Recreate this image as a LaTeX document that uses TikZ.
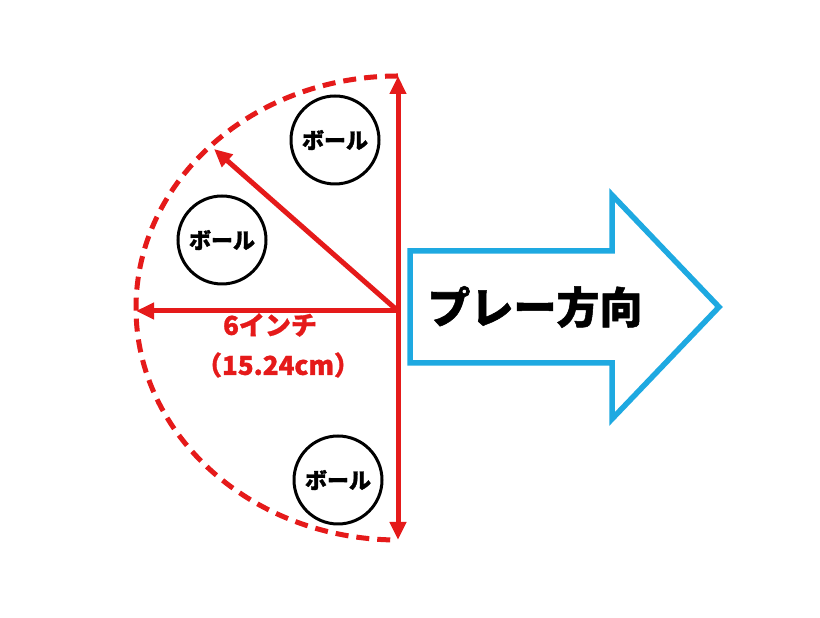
\documentclass[tikz,border=0pt]{standalone}
\usepackage{fontspec}
\newfontfamily\cjk{Noto Sans CJK JP Black}[FakeBold=1.2]
\usetikzlibrary{arrows.meta}
\definecolor{rd}{HTML}{E51A1A}
\definecolor{bl}{HTML}{1EA9E1}
\tikzset{
  redarrow/.style={draw=rd, line width=5pt, -{Triangle[length=18pt,width=16pt]}},
  dasharc/.style={draw=rd, line width=5pt, dash pattern=on 13pt off 8pt},
  ball/.style={circle, draw=black, line width=3pt, minimum size=88pt, inner sep=0pt, font=\cjk\fontsize{22}{24}\selectfont},
  redlabel/.style={text=rd, font=\cjk\fontsize{26}{28}\selectfont, inner sep=0pt},
}
\begin{document}
\begin{tikzpicture}[x=1pt,y=1pt]
\useasboundingbox (0,0) rectangle (820,618);
\fill[white] (0,0) rectangle (820,618);
\coordinate (c) at (398,307);
\coordinate (top) at (398,542);
\coordinate (bot) at (398,78);
\coordinate (left) at (136,307);
\coordinate (diag) at (214,469);
% dashed half ellipse
\draw[dasharc] (top) arc[start angle=90, end angle=270, x radius=262pt, y radius=232pt];
% balls
\node[ball] (b1) at (335,478) {ボール};
\node[ball] (b2) at (222,378) {ボール};
\node[ball] (b3) at (338,138) {ボール};
% red arrows
\draw[redarrow, {Triangle[length=18pt,width=16pt]}-{Triangle[length=18pt,width=16pt]}] (bot) -- (top);
\draw[redarrow] (c) -- (left);
\draw[redarrow] (c) -- (diag);
% labels
\node[redlabel] (l1) at (270,293) {6インチ};
\node[redlabel] (l2) at (278,253) {（15.24cm）};
% blue arrow
\draw[draw=bl, line width=5.5pt, line join=miter] (410,367) -- (612,367) -- (612,423) -- (719,311) -- (612,199) -- (612,255) -- (410,255) -- cycle;
\node[font=\cjk\fontsize{43}{46}\selectfont, inner sep=0pt] (t) at (535,311) {プレー方向};
\end{tikzpicture}
\end{document}
